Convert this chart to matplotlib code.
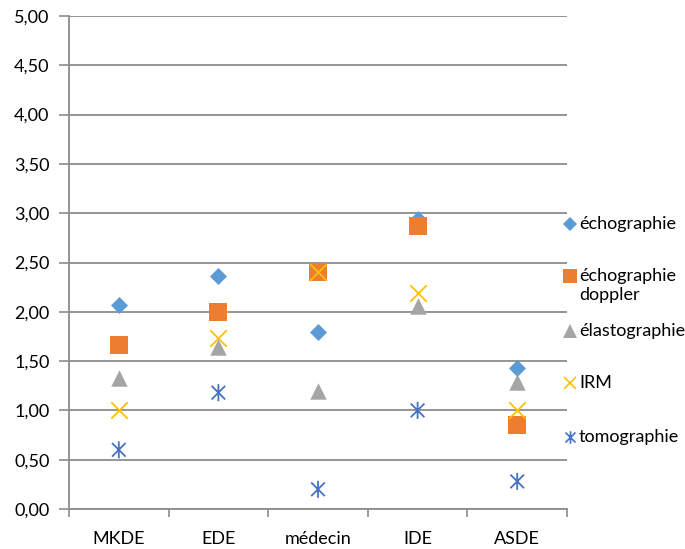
import matplotlib
matplotlib.use("Agg")
import matplotlib.pyplot as plt
from matplotlib.path import Path
from matplotlib.lines import Line2D
import numpy as np

categories = ["MKDE", "EDE", "médecin", "IDE", "ASDE"]
echographie = [2.07, 2.36, 1.80, 2.94, 1.43]
echo_doppler = [1.66, 2.00, 2.40, 2.87, 0.85]
elastographie = [1.33, 1.64, 1.20, 2.06, 1.29]
irm = [1.00, 1.73, 2.40, 2.19, 1.00]
tomographie = [0.60, 1.18, 0.20, 1.00, 0.28]
y_ticks = [0, 0.5, 1.0, 1.5, 2.0, 2.5, 3.0, 3.5, 4.0, 4.5, 5.0]

plt.rcParams["font.family"] = ["Lato", "DejaVu Sans"]

W, H = 685, 549

# star marker: an X crossed by a vertical stroke
star = Path(
    [(-0.8, -0.8), (0.8, 0.8), (-0.8, 0.8), (0.8, -0.8), (0, -1), (0, 1)],
    [Path.MOVETO, Path.LINETO, Path.MOVETO, Path.LINETO, Path.MOVETO, Path.LINETO],
)

series = [
    ("échographie", echographie, dict(marker="D", s=75, color="#5B9BD5", linewidths=0), 224),
    ("échographie\ndoppler", echo_doppler, dict(marker="s", s=160, color="#ED7D31", linewidths=0), 276),
    ("élastographie", elastographie, dict(marker="^", s=140, color="#A5A5A5", linewidths=0), 331),
    ("IRM", irm, dict(marker="x", s=140, color="#FFC000", linewidths=1.3), 383),
    ("tomographie", tomographie, dict(marker=star, s=150, facecolor="none", edgecolor="#4472C4", linewidths=1.3), 437),
]

fig = plt.figure(figsize=(W / 100, H / 100), dpi=100)
ax = fig.add_axes([69 / W, 40 / H, 498 / W, 493 / H])

x = np.arange(len(categories)) + 0.5
grid_c = "#8c8c8c"

for label, vals, kw, _ in series:
    ax.scatter(x, vals, zorder=3, **kw)

ax.set_xlim(0, len(categories))
ax.set_ylim(0, 5)
ax.set_yticks(y_ticks)
ax.set_yticklabels([f"{v:.2f}".replace(".", ",") for v in y_ticks], fontsize=13)
ax.set_xticks(x)
ax.set_xticklabels(categories, fontsize=13)
ax.set_xticks(np.arange(len(categories) + 1), minor=True)
ax.tick_params(axis="x", which="major", length=0, pad=16)
ax.tick_params(axis="x", which="minor", length=6, width=1.2, color=grid_c)
ax.tick_params(axis="y", length=7, width=1.2, color=grid_c, pad=7)

ax.grid(axis="y", color=grid_c, linewidth=1.3, zorder=0)
ax.set_axisbelow(True)
for s in ["top", "right"]:
    ax.spines[s].set_visible(False)
for s in ["left", "bottom"]:
    ax.spines[s].set_color(grid_c)
    ax.spines[s].set_linewidth(1.3)

# legend entries placed to the right of the plot area
legend_sizes = {"D": 7, "s": 10, "^": 10, "x": 9}
for label, vals, kw, ypx in series:
    m = kw["marker"]
    ms = legend_sizes.get(m, 9) if isinstance(m, str) else 9
    col = kw.get("color", kw.get("edgecolor"))
    filled = isinstance(m, str) and m in ("D", "s", "^")
    fig.add_artist(Line2D([570 / W], [1 - ypx / H], transform=fig.transFigure,
                          marker=m, markersize=ms, linestyle="none",
                          color=col, markeredgewidth=0 if filled else 1.2,
                          markerfacecolor=col if filled else "none"))
    if "\n" in label:
        fig.text(579 / W, 1 - (ypx - 8) / H, label, fontsize=13, va="top", ha="left",
                 linespacing=1.2, transform=fig.transFigure)
    else:
        fig.text(579 / W, 1 - ypx / H, label, fontsize=13, va="center", ha="left",
                 transform=fig.transFigure)

fig.savefig("out.png", dpi=100)
